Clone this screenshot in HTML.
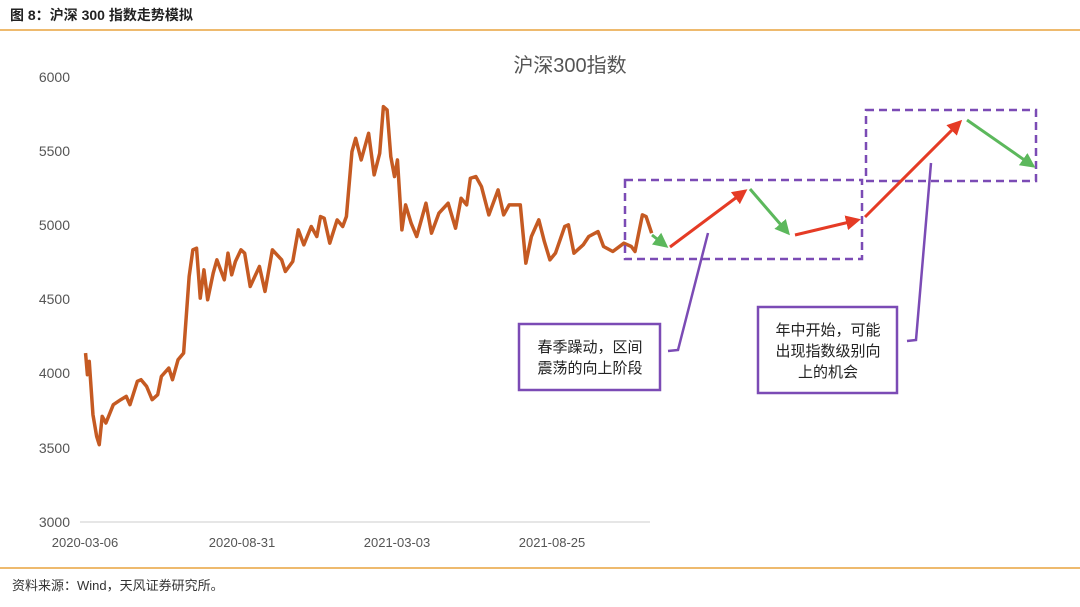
<!DOCTYPE html>
<html><head><meta charset="utf-8"><style>
body{margin:0;background:#fff;width:1080px;height:602px;overflow:hidden;font-family:"Liberation Sans","Noto Sans CJK SC",sans-serif}
</style></head><body>
<svg width="1080" height="602" xmlns="http://www.w3.org/2000/svg" font-family="Liberation Sans, Noto Sans CJK SC, sans-serif">
<text x="10" y="20" font-size="14" font-weight="bold" fill="#222">图 8：沪深 300 指数走势模拟</text>
<line x1="0" y1="30" x2="1080" y2="30" stroke="#e9a33f" stroke-width="1.5"/>
<line x1="0" y1="568" x2="1080" y2="568" stroke="#e9a33f" stroke-width="1.5"/>
<text x="12" y="590" font-size="13" fill="#333">资料来源：Wind，天风证券研究所。</text>
<text x="570" y="72" font-size="20" fill="#555" text-anchor="middle">沪深300指数</text>
<g font-size="14" fill="#555" text-anchor="end">
<text x="70" y="82">6000</text><text x="70" y="156">5500</text><text x="70" y="230">5000</text>
<text x="70" y="304">4500</text><text x="70" y="378">4000</text><text x="70" y="453">3500</text><text x="70" y="527">3000</text>
</g>
<line x1="80" y1="522" x2="650" y2="522" stroke="#ccc"/>
<g font-size="13" fill="#555" text-anchor="middle">
<text x="85" y="547">2020-03-06</text><text x="242" y="547">2020-08-31</text><text x="397" y="547">2021-03-03</text><text x="552" y="547">2021-08-25</text>
</g>
<g transform="translate(80,90) scale(0.37,0.333)">
<polyline fill="none" stroke="#c55a22" stroke-width="3.5" vector-effect="non-scaling-stroke" stroke-linejoin="round" points="15,790 20,855 25,815 35,975 45,1040 52,1065 60,980 70,1000 90,945 110,930 125,920 135,945 155,875 165,870 180,890 195,930 210,915 220,860 240,835 250,870 265,810 280,790 295,560 305,480 315,475 325,625 335,540 345,630 360,550 370,510 390,570 400,490 410,555 420,515 435,480 445,490 460,590 485,530 500,605 520,480 545,510 555,545 575,515 590,420 605,465 625,410 640,440 650,380 660,385 675,460 695,390 710,410 720,380 735,185 745,145 760,210 780,130 795,255 810,190 820,50 830,60 840,200 850,260 858,210 870,420 880,345 895,400 910,440 935,340 950,430 970,370 995,340 1015,415 1030,325 1045,345 1055,265 1070,260 1085,290 1105,375 1130,300 1145,375 1160,345 1190,345 1205,520 1220,440 1240,390 1255,455 1270,510 1285,490 1310,410 1320,405 1335,490 1360,465 1375,440 1400,425 1415,470 1440,485 1470,460 1490,470 1500,485 1520,375 1530,380 1545,430"/>
</g>
<defs>
<marker id="ar" markerWidth="5" markerHeight="5" refX="4" refY="2.5" orient="auto"><path d="M0,0 L5,2.5 L0,5 Z" fill="#e53b25"/></marker>
<marker id="ag" markerWidth="5" markerHeight="5" refX="4" refY="2.5" orient="auto"><path d="M0,0 L5,2.5 L0,5 Z" fill="#5cb85c"/></marker>
</defs>
<g fill="none" stroke="#7b4bb5" stroke-width="2.5" stroke-dasharray="8,5">
<rect x="625" y="180" width="237" height="79"/>
<rect x="866" y="110" width="170" height="71"/>
</g>
<g stroke-width="3" fill="none">
<line x1="652" y1="235" x2="666" y2="246" stroke="#5cb85c" marker-end="url(#ag)"/>
<line x1="670" y1="247" x2="745" y2="191" stroke="#e53b25" marker-end="url(#ar)"/>
<line x1="750" y1="189" x2="788" y2="233" stroke="#5cb85c" marker-end="url(#ag)"/>
<line x1="795" y1="235" x2="858" y2="220" stroke="#e53b25" marker-end="url(#ar)"/>
<line x1="865" y1="217" x2="960" y2="122" stroke="#e53b25" marker-end="url(#ar)"/>
<line x1="967" y1="120" x2="1033" y2="166" stroke="#5cb85c" marker-end="url(#ag)"/>
</g>
<g stroke="#7b4bb5" stroke-width="2.5" fill="none">
<polyline points="668,351 678,350 708,233"/>
<polyline points="907,341 916,340 931,163"/>
<rect x="519" y="324" width="141" height="66" fill="#fff"/>
<rect x="758" y="307" width="139" height="86" fill="#fff"/>
</g>
<g font-size="15" fill="#222" text-anchor="middle">
<text x="590" y="352">春季躁动，区间</text><text x="590" y="373">震荡的向上阶段</text>
<text x="828" y="335">年中开始，可能</text><text x="828" y="356">出现指数级别向</text><text x="828" y="377">上的机会</text>
</g>
</svg>
</body></html>
